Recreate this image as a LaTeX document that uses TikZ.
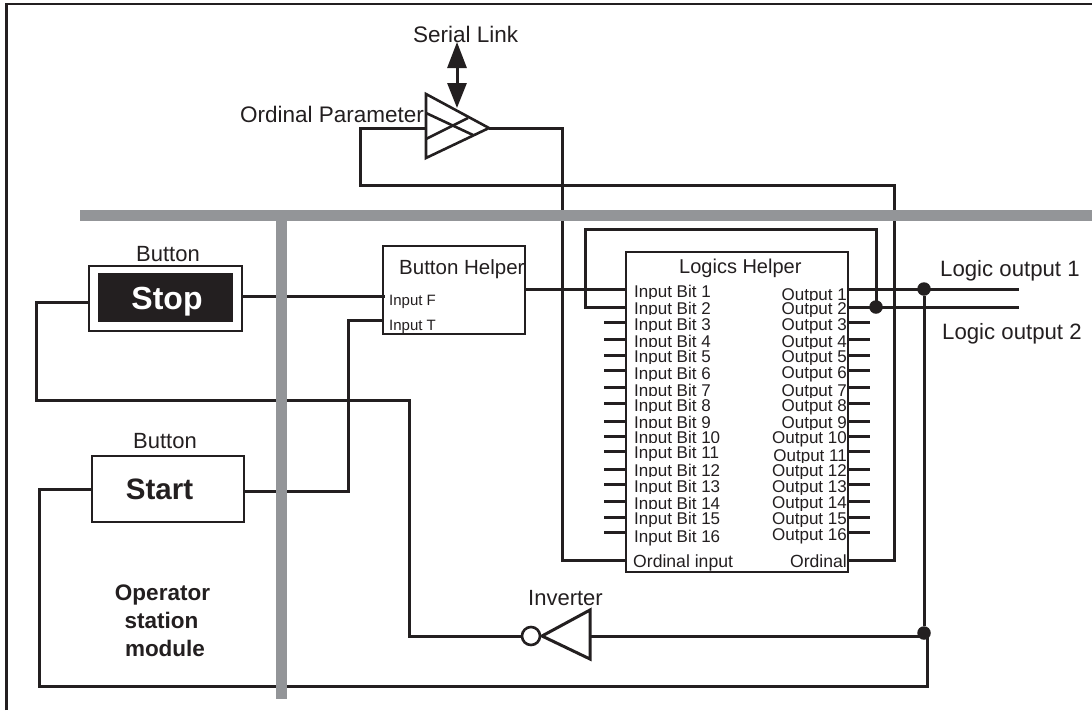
\documentclass[tikz,border=0pt]{standalone}
\usepackage{fontspec}
\setmainfont{Liberation Sans}
\usetikzlibrary{arrows.meta}
\definecolor{ink}{HTML}{231F20}
\definecolor{bar}{HTML}{939598}
\tikzset{
  fs/.style={font=\fontsize{#1pt}{#1pt}\selectfont},
  lbl/.style={text=ink,inner sep=0pt,anchor=base west,fs=#1},
  lblc/.style={text=ink,inner sep=0pt,anchor=base,fs=#1},
  blbl/.style={text=ink,inner sep=0pt,anchor=base,font=\fontsize{#1pt}{#1pt}\selectfont\bfseries},
  pinl/.style={text=ink,inner sep=0pt,anchor=base west,fs=17,fill=white,text height=15pt,text depth=0pt},
  pinr/.style={text=ink,inner sep=0pt,anchor=base east,fs=17,fill=white,text height=13.5pt,text depth=0pt},
  wire/.style={draw=ink,line width=3pt,line cap=butt,line join=miter},
  boxline/.style={draw=ink,line width=2.6pt},
  graybar/.style={fill=bar,draw=none},
  dot/.style={circle,fill=ink,draw=none,minimum size=13.5pt,inner sep=0pt},
}
\begin{document}
\begin{tikzpicture}[x=1pt,y=-1pt]
\useasboundingbox (0,0) rectangle (1092,710);
% frame
\draw[draw=ink,line width=2.6pt] (6.5,710) -- (6.5,4) -- (1092,4);

% boxes
\node[boxline,fill=white,minimum width=153pt,minimum height=65pt,inner sep=0pt] (stop) at (165.5,298.5) {};
\node[fill=ink,minimum width=135pt,minimum height=49pt,inner sep=0pt] (stopface) at (165.5,297.5) {};
\node[text=white,inner sep=0pt,anchor=base,font=\fontsize{32pt}{32pt}\selectfont\bfseries] (stoptxt) at (167,309) {Stop};
\node[boxline,fill=white,minimum width=152pt,minimum height=66pt,inner sep=0pt] (start) at (168,489) {};
\node[blbl=29.5] (starttxt) at (159.5,499) {Start};
\node[boxline,fill=white,minimum width=142pt,minimum height=88pt,inner sep=0pt] (bh) at (454,290) {};
\node[fill=white,minimum width=222pt,minimum height=320pt,inner sep=0pt,outer sep=0pt] (lh) at (737,412) {};

% labels
\node[lbl=22.5] (serial) at (413,42) {Serial Link};
\node[lbl=22.5] (ordpar) at (240,122) {Ordinal Parameter};
\node[lblc=22] (btn1) at (168,261) {Button};
\node[lblc=22] (btn2) at (165,448) {Button};
\node[lbl=20.5] (bhtitle) at (399,274) {Button Helper};
\node[lbl=15] (inf) at (389,305) {Input F};
\node[lbl=15] (intt) at (389,330) {Input T};
\node[lbl=20] (lhtitle) at (679,273) {Logics Helper};
\node[lbl=22.2] (lo1) at (940,276) {Logic output 1};
\node[lbl=22.2] (lo2) at (942,339) {Logic output 2};
\node[lbl=22] (inv) at (528,605) {Inverter};
\node[blbl=22.5] (op1) at (162.5,600) {Operator};
\node[blbl=22.5] (op2) at (161.5,628) {station};
\node[blbl=22.5] (op3) at (165,656) {module};

% pin labels of the logics helper
\foreach \i/\yy in {1/297,2/314,3/330,4/347,5/362,6/379,7/396,8/411,9/428,10/443,11/458,12/476,13/492,14/509,15/524,16/542}
  \node[pinl] (ib\i) at (634,\yy) {Input Bit \i};
\foreach \i/\yy in {1/300.5,2/314,3/330,4/347,5/362,6/378,7/396,8/411,9/428,10/443,11/461,12/476,13/492,14/508,15/524,16/540}
  \node[pinr] (ob\i) at (847,\yy) {Output \i};
\node[pinl,fs=17.6] (ordin) at (633,567) {Ordinal input};
\node[pinr,fs=17.6] (ordout) at (847,567) {Ordinal};
\draw[boxline] (lh.north west) rectangle (lh.south east);

% stubs
\foreach \i/\yy in {3/322,4/339,5/355,6/370,7/387,8/403,9/421,10/436,11/451,12/469,13/484,14/501,15/517,16/532}{
  \coordinate (sl\i) at (604,\yy);
  \draw[wire] (sl\i) -- (sl\i -| lh.west);
}
\foreach \i/\yy in {3/322,4/339,5/355,6/370,7/387,8/403,9/421,10/436,11/451,12/469,13/484,14/501,15/517,16/532}{
  \coordinate (sr\i) at (870,\yy);
  \draw[wire] (sr\i -| lh.east) -- (sr\i);
}

% amplifier
\coordinate (ampa) at (426,94);
\coordinate (ampb) at (426,158);
\coordinate (ampt) at (489,128);
\coordinate (ampin) at (426,128);
\coordinate (amptop) at (457,108);
\draw[boxline,line join=miter] (ampa) -- (ampt) -- (ampb) -- cycle;
\draw[boxline] (426,113) -- (473,135);
\draw[boxline] (426,139) -- (468,118);
\coordinate (serialb) at (457,42);
\draw[draw=ink,line width=3pt,{Triangle[length=26pt,width=19pt]}-{Triangle[length=25pt,width=19pt]}] (serialb) -- (amptop);

% ordinal wires
\coordinate (oy) at (562,128);
\coordinate (oz) at (562,560);
\draw[wire] (ampt) -- (oy) -- (oz) -- (oz -| lh.west);
\coordinate (ol) at (894,560);
\draw[wire] (ol -| lh.east) -- (ol) -- (894,185) -- (360,185) -- (360,128) -- (ampin);

% logic outputs
\coordinate (o1in) at (626,289);
\coordinate (o1out) at (1019,289);
\coordinate (o2out) at (1019,307);
\coordinate (i2) at (626,307);
\coordinate (bhout) at (525,289);
\draw[wire] (bhout) -- (o1in);
\draw[wire] (848,289) -- (o1out);
\draw[wire] (848,307) -- (o2out);
\draw[wire] (i2) -- (585,307) -- (585,229) -- (876,229) -- (876,307);
\node[dot] (j2) at (876,307) {};
\node[dot] (j1) at (924,289) {};
\node[dot] (j3) at (924,633) {};
\draw[wire] (j1) -- (j3);
\coordinate (sw) at (92,489);
\draw[wire] (927,633) -- (927,686) -- (39,686) -- (39,489) -- (sw);

% button helper inputs
\coordinate (stopR) at (241,296);
\coordinate (bhF) at (385,296);
\draw[wire] (stopR) -- (bhF);
\coordinate (startR) at (244,491);
\coordinate (bhT) at (383,320);
\draw[wire] (startR) -- (348,491) -- (348,320) -- (bhT);

% stop to inverter
\coordinate (stopL) at (89,302);
\node[circle,boxline,fill=white,minimum size=18pt,inner sep=0pt] (bub) at (531,636) {};
\draw[wire] (stopL) -- (36,302) -- (36,400) -- (409,400) -- (409,636) -- (bub);
\coordinate (invtip) at (542,636);
\coordinate (invbase) at (590,636);
\draw[draw=ink,line width=3pt,line join=miter] (590,610) -- (invtip) -- (590,659) -- cycle;
\coordinate (invout) at (924,636);
\draw[wire] (invbase) -- (invout);

% gray bars
\fill[graybar] (80,210) rectangle (1092,221);
\fill[graybar] (276,221) rectangle (287,699);
\end{tikzpicture}
\end{document}
